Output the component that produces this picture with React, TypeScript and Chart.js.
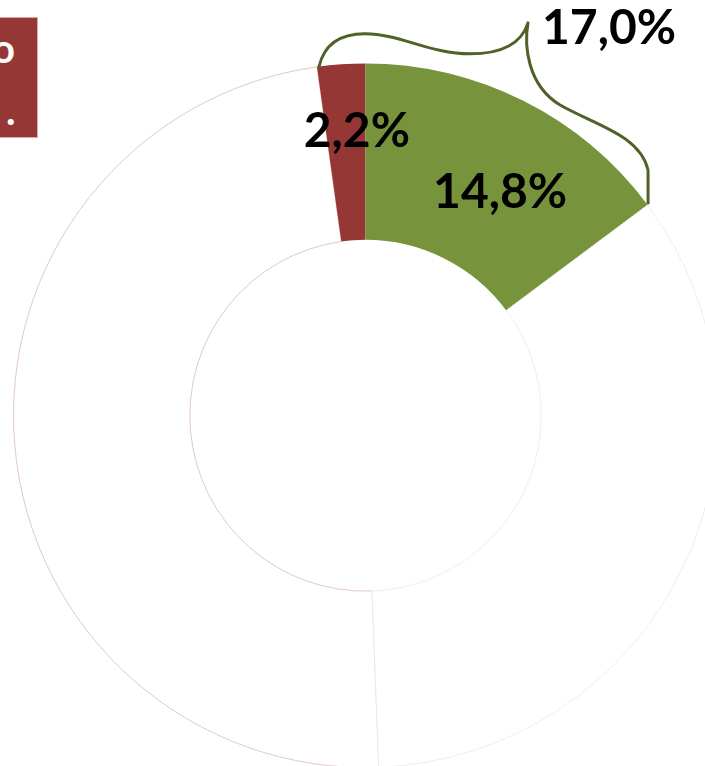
import React, { useEffect, useRef } from "react";
import { Chart, registerables } from "chart.js";

Chart.register(...registerables);

// ---- data (clockwise from 12 o'clock) ----
const categories = ["Verde", "Resto A", "Resto B", "Vermelho"];
const values = [14.8, 34.6, 48.4, 2.2];
const sliceLabels = ["14,8%", "", "", "2,2%"];
const combinedLabel = "17,0%";
const boxLines = ["o", "."];

// ---- styles ----
const fillColors = ["#77933c", "#ffffff", "#ffffff", "#953735"];
const borderColors = ["#77933c", "#efeee8", "#e3c8c8", "#953735"];
const borderWidths = [0, 1, 1, 0];
const LABEL_FONT = "bold 48px Lato, 'Open Sans', sans-serif";
const BRACE_COLOR = "#4f6228";

// draw order: start at the "Resto B" slice so that "Resto A" (faint border) is painted last
const startIndex = 2;
const order = values.map((_, i) => (i + startIndex) % values.length);
const total = values.reduce((a, b) => a + b, 0);
const rotationDeg = (values.slice(0, startIndex).reduce((a, b) => a + b, 0) / total) * 360;
const pos = (orig: number) => order.indexOf(orig);

const overlayPlugin = {
  id: "overlay",
  afterDatasetsDraw(chart: any) {
    const ctx = chart.ctx;
    const meta = chart.getDatasetMeta(0);
    const arcs = meta.data as any[];
    if (!arcs.length) return;
    const keys = ["x", "y", "startAngle", "endAngle", "innerRadius", "outerRadius"];
    const g = arcs[pos(0)].getProps(keys, true);
    const r = arcs[pos(3)].getProps(keys, true);
    const cx = g.x, cy = g.y, R = g.outerRadius;

    ctx.save();
    ctx.fillStyle = "#000";
    ctx.font = LABEL_FONT;
    ctx.textAlign = "center";
    ctx.textBaseline = "middle";

    const ga = g.startAngle + 0.585 * (g.endAngle - g.startAngle);
    ctx.fillText(sliceLabels[0], cx + Math.cos(ga) * R * 0.739, cy + Math.sin(ga) * R * 0.739);
    const ra = r.startAngle + 0.78 * (r.endAngle - r.startAngle);
    ctx.fillText(sliceLabels[3], cx + Math.cos(ra) * R * 0.806, cy + Math.sin(ra) * R * 0.806);

    // brace spanning red + green slices
    const S = { x: cx + Math.cos(r.startAngle) * R, y: cy + Math.sin(r.startAngle) * R };
    const E = { x: cx + Math.cos(g.endAngle) * R, y: cy + Math.sin(g.endAngle) * R };
    const s = (dx: number, dy: number): [number, number] => [S.x + dx, S.y + dy];
    const e = (dx: number, dy: number): [number, number] => [E.x + dx, E.y + dy];
    ctx.strokeStyle = BRACE_COLOR;
    ctx.lineWidth = 3;
    ctx.lineCap = "round";
    ctx.lineJoin = "round";
    ctx.beginPath();
    ctx.moveTo(...s(2, 0));
    ctx.bezierCurveTo(...s(7, -22), ...s(23, -33), ...s(48, -33));
    ctx.bezierCurveTo(...s(83, -33), ...s(113, -13), ...s(153, -13));
    ctx.bezierCurveTo(...s(188, -13), ...s(205, -25), ...s(211, -44));
    ctx.bezierCurveTo(...e(-123.6, -160), ...e(-120.6, -120), ...e(-87.6, -100));
    ctx.bezierCurveTo(...e(-52.6, -80), ...e(-7.6, -70), ...e(0.4, -35));
    ctx.lineTo(...e(0.4, -2));
    ctx.stroke();

    const tip = s(211, -44);
    ctx.textAlign = "left";
    ctx.fillText(combinedLabel, tip[0] + 14, tip[1] + 6);
    ctx.restore();
  },
};

export default function App() {
  const canvasRef = useRef<HTMLCanvasElement | null>(null);

  useEffect(() => {
    if (!canvasRef.current) return;
    const chart = new Chart(canvasRef.current, {
      type: "doughnut",
      data: {
        labels: order.map((i) => categories[i]),
        datasets: [
          {
            data: order.map((i) => values[i]),
            backgroundColor: order.map((i) => fillColors[i]),
            borderColor: order.map((i) => borderColors[i]),
            borderWidth: order.map((i) => borderWidths[i]),
            clip: false as any,
          } as any,
        ],
      },
      options: {
        responsive: false,
        animation: false,
        rotation: rotationDeg,
        radius: 352,
        cutout: "49.9%",
        layout: { padding: { left: 26, right: 0, top: 65, bottom: 0 } },
        plugins: {
          legend: { display: false },
          tooltip: { enabled: false },
        },
        events: [],
      } as any,
      plugins: [overlayPlugin],
    });
    return () => chart.destroy();
  }, []);

  return (
    <div
      style={{
        position: "fixed",
        left: 0,
        top: 0,
        width: 705,
        height: 766,
        overflow: "hidden",
        background: "#ffffff",
      }}
    >
      <canvas ref={canvasRef} width={705} height={766} style={{ display: "block" }} />
      <div
        style={{
          position: "absolute",
          left: -2,
          top: 17,
          width: 40,
          height: 121,
          background: "#953735",
          border: "1px solid #d7a9a8",
          boxSizing: "border-box",
          overflow: "hidden",
          color: "#ffffff",
          fontFamily: "Lato, 'Open Sans', sans-serif",
          fontWeight: 700,
          fontSize: 40,
        }}
      >
        <span style={{ position: "absolute", left: -7, top: 9.5, lineHeight: "40px", whiteSpace: "pre" }}>{boxLines[0]}</span>
        <span style={{ position: "absolute", left: 7, top: 71.5, lineHeight: "40px", whiteSpace: "pre" }}>{boxLines[1]}</span>
      </div>
    </div>
  );
}
